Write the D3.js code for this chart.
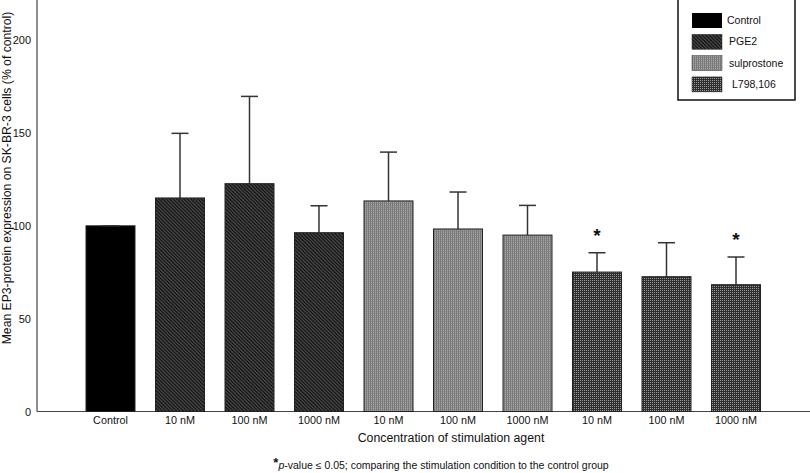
<!DOCTYPE html>
<html><head><meta charset="utf-8">
<script src="https://cdn.jsdelivr.net/npm/d3@7"></script>
<style>body{margin:0;background:#fff}svg{display:block;font-family:"Liberation Sans",Arial,sans-serif}</style>
</head><body><svg id="c" width="810" height="473"></svg>
<script>
const categories = ["Control","10 nM","100 nM","1000 nM","10 nM","100 nM","1000 nM","10 nM","100 nM","1000 nM"];
const groups = ["Control","PGE2","PGE2","PGE2","sulprostone","sulprostone","sulprostone","L798,106","L798,106","L798,106"];
const means = [100, 115, 122.7, 96.3, 113.4, 98.3, 95.0, 75.1, 72.6, 68.3];
const errTops = [100, 149.8, 169.7, 110.8, 139.7, 118.2, 111.0, 85.5, 90.9, 83.2];
const significant = [false,false,false,false,false,false,false,true,false,true];
const legendItems = ["Control","PGE2","sulprostone","L798,106"];
const yTicks = [0,50,100,150,200];

const svg = d3.select("#c");
const defs = svg.append("defs");
const pPGE = defs.append("pattern").attr("id","pge").attr("patternUnits","userSpaceOnUse").attr("width",2.5).attr("height",3).attr("patternTransform","rotate(-45)");
pPGE.append("rect").attr("width",2.5).attr("height",3).attr("fill","#1c1c1c");
pPGE.append("rect").attr("width",0.9).attr("height",3).attr("fill","#4e4e4e");
const pSul = defs.append("pattern").attr("id","sul").attr("patternUnits","userSpaceOnUse").attr("width",2).attr("height",2);
pSul.append("rect").attr("width",2).attr("height",2).attr("fill","#a2a2a2");
pSul.append("rect").attr("width",1).attr("height",2).attr("fill","#7a7a7a");
pSul.append("rect").attr("x",1).attr("y",1).attr("width",1).attr("height",1).attr("fill","#8e8e8e");
const pL = defs.append("pattern").attr("id","lll").attr("patternUnits","userSpaceOnUse").attr("width",2).attr("height",2);
pL.append("rect").attr("width",2).attr("height",2).attr("fill","#2e2e2e");
pL.append("rect").attr("width",1).attr("height",1).attr("fill","#9a9a9a");
const fills = {"Control":"#000","PGE2":"url(#pge)","sulprostone":"url(#sul)","L798,106":"url(#lll)"};

const y = d3.scaleLinear().domain([0,220]).range([411.5, 3]);
const x = d3.scaleBand().domain(d3.range(categories.length)).range([75.75,770.75]).paddingInner(0.295).paddingOuter(0.1475);

const yAxis = svg.append("g").attr("transform","translate(37,0)")
  .call(d3.axisLeft(y).tickValues(yTicks).tickSize(0).tickPadding(6));
yAxis.select(".domain").remove();
yAxis.selectAll("text").attr("font-size",11).attr("fill","#111").attr("font-family","Liberation Sans, Arial, sans-serif").attr("dy","0.35em");
svg.append("line").attr("x1",37).attr("x2",37).attr("y1",0).attr("y2",y(0)).attr("stroke","#444").attr("stroke-width",1.2);
svg.append("line").attr("x1",37).attr("x2",810).attr("y1",y(0)).attr("y2",y(0)).attr("stroke","#444").attr("stroke-width",1.2);

const xAxis = svg.append("g").attr("transform",`translate(0,${y(0)})`)
  .call(d3.axisBottom(x).tickFormat(i=>categories[i]).tickSize(0).tickPadding(5));
xAxis.select(".domain").remove();
xAxis.selectAll("text").attr("font-size",10.8).attr("fill","#111").attr("font-family","Liberation Sans, Arial, sans-serif");

const eb = svg.append("g");
means.forEach((m,i)=>{
  if (errTops[i] <= m + 0.5) return;
  const cx = x(i)+x.bandwidth()/2;
  eb.append("line").attr("x1",cx).attr("x2",cx).attr("y1",y(m)).attr("y2",y(errTops[i])).attr("stroke","#333").attr("stroke-width",1.5);
  eb.append("line").attr("x1",cx-8.5).attr("x2",cx+8.5).attr("y1",y(errTops[i])).attr("y2",y(errTops[i])).attr("stroke","#333").attr("stroke-width",1.5);
});
svg.append("g").selectAll("rect").data(means).join("rect")
  .attr("x",(d,i)=>x(i)).attr("width",x.bandwidth())
  .attr("y",d=>y(d)).attr("height",d=>y(0)-y(d))
  .attr("fill",(d,i)=>fills[groups[i]]).attr("stroke","#222").attr("stroke-width",1);
svg.append("line").attr("x1",x(0)+x.bandwidth()/2-8.5).attr("x2",x(0)+x.bandwidth()/2+8.5)
  .attr("y1",y(errTops[0])).attr("y2",y(errTops[0])).attr("stroke","#333").attr("stroke-width",1.5);

svg.append("g").selectAll("text").data(significant.map((s,i)=>({s,i})).filter(d=>d.s)).join("text")
  .attr("x",d=>x(d.i)+x.bandwidth()/2).attr("y",d=>y(errTops[d.i])-11)
  .attr("text-anchor","middle").attr("font-size",19).attr("font-weight","bold").attr("fill","#111").text("*");

svg.append("text").attr("transform","translate(11,178) rotate(-90)").attr("text-anchor","middle")
  .attr("font-size",12.2).attr("fill","#111").text("Mean EP3-protein expression on SK-BR-3 cells (% of control)");
svg.append("text").attr("x",451).attr("y",442).attr("text-anchor","middle").attr("font-size",12.3).attr("fill","#111")
  .text("Concentration of stimulation agent");
const fn = svg.append("text").attr("x",441).attr("y",469).attr("text-anchor","middle").attr("font-size",10.5).attr("fill","#111");
fn.append("tspan").attr("font-size",13).attr("font-weight","bold").attr("dy","-2").text("*");
fn.append("tspan").attr("font-style","italic").attr("dy","2").text("p");
fn.append("tspan").text("-value ≤ 0.05; comparing the stimulation condition to the control group");

const lg = svg.append("g");
lg.append("rect").attr("x",678).attr("y",-5).attr("width",117).attr("height",105).attr("fill","#fff").attr("stroke","#111").attr("stroke-width",1.5);
legendItems.forEach((k,i)=>{
  const yy = 13 + i*21.3;
  lg.append("rect").attr("x",692).attr("y",yy).attr("width",30).attr("height",15).attr("fill",fills[k]).attr("stroke", i===0?"none":"#333").attr("stroke-width",0.5);
  lg.append("text").attr("x",i===0?727:(i===3?732:729)).attr("y",yy+7.5).attr("dy","0.35em").attr("font-size",10.5).attr("fill","#111").text(k);
});
</script></body></html>
